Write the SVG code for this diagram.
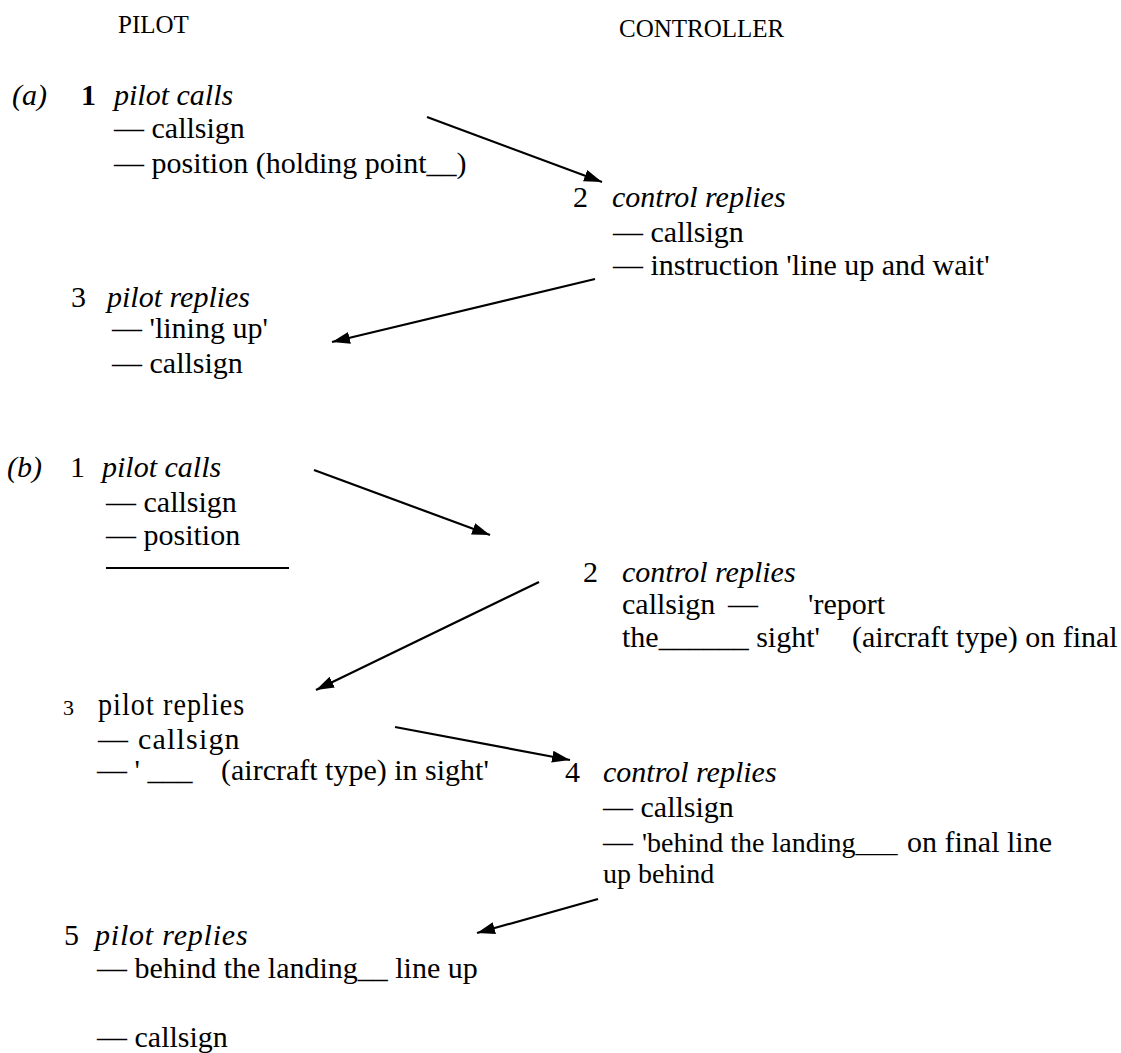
<svg xmlns="http://www.w3.org/2000/svg" width="1121" height="1053" viewBox="0 0 1121 1053">
<style>
text{font-family:"Liberation Serif","Times New Roman",serif;font-size:30px;fill:#000}
.h{font-size:25px}
.i{font-style:italic}
.b{font-weight:bold}
.s{font-size:28px}
.n{font-size:22px}
.w{letter-spacing:1.2px}
.c{stroke:#000;stroke-width:2.2;fill:none}
</style>
<defs>
<marker id="a" viewBox="0 0 18 12" refX="18" refY="6" markerWidth="18" markerHeight="12" markerUnits="userSpaceOnUse" orient="auto">
<path d="M0,0 L18,6 L0,12 z" fill="#000"/>
</marker>
</defs>
<g id="headers">
<text class="h" x="118" y="33">PILOT</text>
<text class="h" x="619" y="37">CONTROLLER</text>
</g>
<g id="a-1">
<text class="i" x="12" y="105">(a)</text>
<text class="b" x="81" y="105">1</text>
<text class="i" x="114" y="105">pilot calls</text>
<text x="114" y="138">— callsign</text>
<text x="114" y="173">— position (holding point__)</text>
</g>
<g id="a-2">
<text x="573" y="207">2</text>
<text class="i" x="612" y="207">control replies</text>
<text x="613" y="242">— callsign</text>
<text x="613" y="275">— instruction 'line up and wait'</text>
</g>
<g id="a-3">
<text x="71" y="307">3</text>
<text class="i" x="107" y="307">pilot replies</text>
<text x="112" y="338">— 'lining up'</text>
<text x="112" y="373">— callsign</text>
</g>
<g id="b-1">
<text class="i" x="7" y="477">(b)</text>
<text x="70" y="477">1</text>
<text class="i" x="102" y="477">pilot calls</text>
<text x="106" y="512">— callsign</text>
<text x="106" y="545">— position</text>
<line x1="106" y1="568" x2="289" y2="568" stroke="#000" stroke-width="2.2"/>
</g>
<g id="b-2">
<text x="583" y="582">2</text>
<text class="i" x="622" y="582">control replies</text>
<text y="614"><tspan x="622">callsign</tspan><tspan x="728">—</tspan><tspan x="808">'report</tspan></text>
<text y="647"><tspan x="622">the______ sight'</tspan><tspan x="852">(aircraft type) on final</tspan></text>
</g>
<g id="b-3">
<text class="n" x="63" y="715">3</text>
<text class="w" x="98" y="715" style="font-size:32px" transform="translate(98,715) scale(0.88,1) translate(-98,-715)">pilot replies</text>
<text class="w" x="98" y="749">— callsign</text>
<text y="780"><tspan x="97">— ' ___</tspan><tspan x="221">(aircraft type) in sight'</tspan></text>
</g>
<g id="b-4">
<text x="565" y="782">4</text>
<text class="i" x="603" y="782">control replies</text>
<text x="603" y="817">— callsign</text>
<text y="852"><tspan x="603">— </tspan><tspan class="s" x="642">'behind the landing___</tspan><tspan x="907">on final line</tspan></text>
<text class="s" x="603" y="883">up behind</text>
</g>
<g id="b-5">
<text x="64" y="945">5</text>
<text class="i" x="95" y="945" style="letter-spacing:0.8px">pilot replies</text>
<text x="97" y="978">— behind the landing__ line up</text>
<text x="97" y="1047">— callsign</text>
</g>
<g id="connectors">
<line class="c" x1="427" y1="117" x2="602" y2="182" marker-end="url(#a)"/>
<line class="c" x1="595" y1="279" x2="332" y2="342" marker-end="url(#a)"/>
<line class="c" x1="314" y1="470" x2="490" y2="535" marker-end="url(#a)"/>
<line class="c" x1="539" y1="582" x2="316" y2="690" marker-end="url(#a)"/>
<line class="c" x1="395" y1="727" x2="570" y2="760" marker-end="url(#a)"/>
<line class="c" x1="598" y1="899" x2="477" y2="933" marker-end="url(#a)"/>
</g>
</svg>
